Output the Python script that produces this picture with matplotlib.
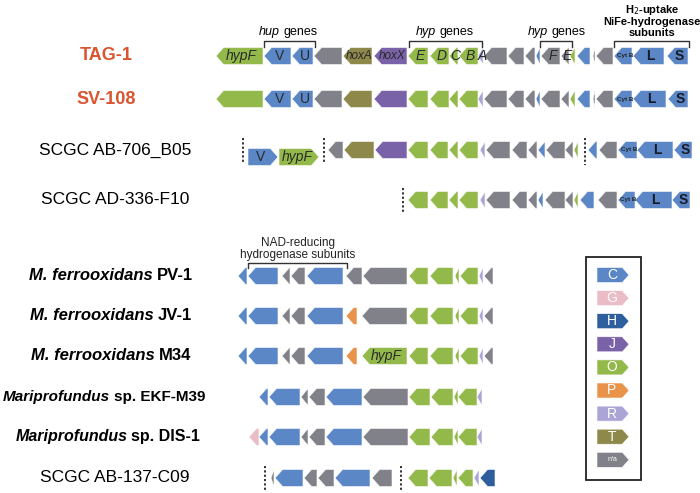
import matplotlib
matplotlib.use('Agg')
import matplotlib.pyplot as plt
from matplotlib.patches import Polygon, Rectangle
from matplotlib.offsetbox import TextArea, HPacker, AnnotationBbox

plt.rcParams['font.family'] = ['Liberation Sans', 'DejaVu Sans']

# COG category colours
colors = {'C': '#5b87c6', 'G': '#e9bcc6', 'H': '#2e5e9e', 'J': '#7a62a9',
          'O': '#93b94b', 'P': '#e9924a', 'R': '#aba4d6', 'T': '#8e884a',
          'NA': '#818189'}
legend_cats = ['C', 'G', 'H', 'J', 'O', 'P', 'R', 'T', 'NA']
legend_labels = ['C', 'G', 'H', 'J', 'O', 'P', 'R', 'T', 'n/a']

# genes: (category, start, end, label)  -- positions in diagram pixels
tag1_genes = [('O', 216, 263, 'hypF'), ('C', 264, 291, 'V'), ('C', 292, 313, 'U'),
              ('NA', 314, 342, ''), ('T', 343, 372, 'hoxA'), ('J', 374, 407, 'hoxX'),
              ('O', 408, 428, 'E'), ('O', 430, 449, 'D'), ('O', 449, 458, 'C'),
              ('O', 459, 478, 'B'), ('R', 478, 483, 'A'), ('NA', 484, 507, ''),
              ('NA', 508, 524, ''), ('NA', 525, 535, ''), ('C', 536, 540, ''),
              ('NA', 541, 560, 'F'), ('NA', 561, 569, 'E'), ('O', 570, 575, ''),
              ('C', 577, 590, ''), ('NA', 593, 595, ''), ('NA', 596, 613, ''),
              ('C', 614, 632, 'Cyt B'), ('C', 633, 664, 'L'), ('C', 667, 688, 'S')]
sv108_genes = [('O', 216, 263, ''), ('C', 264, 291, 'V'), ('C', 292, 313, 'U'),
               ('NA', 314, 342, ''), ('T', 343, 372, ''), ('J', 374, 407, ''),
               ('O', 408, 428, ''), ('O', 430, 449, ''), ('O', 449, 458, ''),
               ('O', 459, 478, ''), ('R', 478, 483, ''), ('NA', 484, 507, ''),
               ('NA', 508, 524, ''), ('NA', 525, 535, ''), ('C', 536, 540, ''),
               ('NA', 541, 560, ''), ('NA', 561, 569, ''), ('O', 570, 575, ''),
               ('C', 577, 590, ''), ('NA', 593, 595, ''), ('NA', 596, 613, ''),
               ('C', 614, 632, 'Cyt B'), ('C', 633, 666, 'L'), ('C', 668, 688, 'S')]
b05_frag_genes = [('C', 248, 278, 'V'), ('O', 279, 319, 'hypF')]
b05_genes = [('NA', 328, 343, ''), ('T', 344, 374, ''), ('J', 375, 407, ''),
             ('O', 408, 428, ''), ('O', 430, 448, ''), ('O', 449, 458, ''),
             ('O', 459, 478, ''), ('R', 480, 485, ''), ('NA', 486, 510, ''),
             ('NA', 512, 527, ''), ('NA', 528, 537, ''), ('C', 538, 545, ''),
             ('NA', 546, 565, ''), ('NA', 565, 573, ''), ('O', 574, 578, ''),
             ('C', 588, 597, ''), ('NA', 599, 617, ''), ('C', 618, 637, 'Cyt B'),
             ('C', 637, 673, 'L'), ('C', 674, 692, 'S')]
f10_genes = [('O', 408, 428, ''), ('O', 430, 448, ''), ('O', 449, 458, ''),
             ('O', 459, 478, ''), ('R', 480, 485, ''), ('NA', 486, 510, ''),
             ('NA', 512, 527, ''), ('NA', 528, 537, ''), ('C', 538, 543, ''),
             ('NA', 545, 565, ''), ('NA', 565, 573, ''), ('O', 574, 578, ''),
             ('C', 580, 594, ''), ('NA', 598, 617, ''), ('C', 618, 635, 'Cyt B'),
             ('C', 635, 672, 'L'), ('C', 672, 690, 'S')]
pv1_genes = [('C', 238, 247, ''), ('C', 248, 278, ''), ('NA', 282, 290, ''),
             ('NA', 291, 305, ''), ('C', 307, 343, ''), ('NA', 346, 362, ''),
             ('NA', 363, 407, ''), ('O', 409, 428, ''), ('O', 430, 453, ''),
             ('O', 455, 459, ''), ('O', 460, 478, ''), ('R', 479, 483, ''),
             ('NA', 484, 493, '')]
jv1_genes = [('C', 238, 247, ''), ('C', 248, 278, ''), ('NA', 282, 290, ''),
             ('NA', 291, 305, ''), ('C', 307, 343, ''), ('P', 346, 357, ''),
             ('NA', 362, 407, ''), ('O', 409, 428, ''), ('O', 430, 453, ''),
             ('O', 455, 459, ''), ('O', 460, 478, ''), ('R', 479, 483, ''),
             ('NA', 484, 493, '')]
m34_genes = [('C', 238, 247, ''), ('C', 248, 278, ''), ('NA', 282, 290, ''),
             ('NA', 291, 305, ''), ('C', 307, 343, ''), ('P', 346, 357, ''),
             ('O', 362, 407, 'hypF'), ('O', 409, 428, ''), ('O', 430, 453, ''),
             ('O', 455, 459, ''), ('O', 460, 478, ''), ('R', 479, 483, ''),
             ('NA', 484, 493, '')]
ekf_genes = [('C', 259, 268, ''), ('C', 269, 300, ''), ('NA', 301, 308, ''),
             ('NA', 309, 325, ''), ('C', 326, 362, ''), ('NA', 363, 408, ''),
             ('O', 409, 430, ''), ('O', 431, 453, ''), ('O', 454, 458, ''),
             ('O', 458, 477, ''), ('R', 477, 482, '')]
dis1_genes = [('G', 249, 259, '')] + ekf_genes
c09_genes = [('NA', 271, 274, ''), ('C', 275, 303, ''), ('NA', 304, 317, ''),
             ('NA', 318, 334, ''), ('C', 335, 370, ''), ('NA', 372, 392, ''),
             ('O', 408, 428, ''), ('O', 429, 452, ''), ('O', 453, 457, ''),
             ('O', 458, 473, ''), ('R', 474, 479, ''), ('H', 480, 495, '')]

row_y = [56, 99, 150, 200, 276, 316, 356, 397, 437, 478]
row_genes = [tag1_genes, sv108_genes, b05_genes, f10_genes, pv1_genes,
             jv1_genes, m34_genes, ekf_genes, dis1_genes, c09_genes]

italic_labels = ['hypF', 'hoxA', 'hoxX', 'E', 'D', 'C', 'B', 'A', 'F']
bold_labels = ['L', 'S', 'Cyt B']

fig = plt.figure(figsize=(7, 4.93), dpi=100)
ax = fig.add_axes([0, 0, 1, 1])
ax.set_xlim(0, 700)
ax.set_ylim(493, 0)
ax.axis('off')


def draw_gene(cat, x0, x1, y, label, h=17, direction=-1):
    head = min(h * 0.45, x1 - x0)
    if direction < 0:
        pts = [(x0, y), (x0 + head, y - h / 2), (x1, y - h / 2),
               (x1, y + h / 2), (x0 + head, y + h / 2)]
    else:
        pts = [(x1, y), (x1 - head, y - h / 2), (x0, y - h / 2),
               (x0, y + h / 2), (x1 - head, y + h / 2)]
    ax.add_patch(Polygon(pts, closed=True, facecolor=colors[cat],
                         edgecolor='white', linewidth=0.4))
    if label:
        xc = (x0 + x1) / 2 + direction * -2
        if label == 'Cyt B':
            ax.text(xc, y, label, fontsize=4.5, fontweight='bold',
                    ha='center', va='center', color='#222222')
        elif label in bold_labels:
            ax.text(xc, y, label, fontsize=10, fontweight='bold',
                    ha='center', va='center', color='#1a1a2a')
        else:
            it = label in italic_labels
            size = 8.5 if label.startswith('hox') else 10
            ax.text(xc, y, label, fontsize=size, style='italic' if it else 'normal',
                    ha='center', va='center', color='#2a2a2a')


def mixed_text(x, y, parts, size, color='black', sep=3.0):
    boxes = [TextArea(t, textprops=dict(fontsize=size, color=color,
                                        fontstyle=st, fontweight=w))
             for t, st, w in parts]
    pack = HPacker(children=boxes, align='baseline', pad=0, sep=sep)
    ab = AnnotationBbox(pack, (x, y), xycoords='data', frameon=False,
                        box_alignment=(0.5, 0.5), pad=0)
    ax.add_artist(ab)


def bracket(x0, x1, ytop, ybot):
    ax.plot([x0, x0, x1, x1], [ybot, ytop, ytop, ybot], color='#333333', lw=1)


def dashed(x, y0, y1):
    ax.plot([x, x], [y0, y1], color='#222222', lw=1.3, dashes=(1.2, 1.2))


for y, genes in zip(row_y, row_genes):
    for cat, x0, x1, lab in genes:
        draw_gene(cat, x0, x1, y, lab)

for cat, x0, x1, lab in b05_frag_genes:
    draw_gene(cat, x0, x1, 157, lab, direction=1)

# contig breaks
dashed(243, 138, 164)
dashed(324, 138, 164)
dashed(585, 138, 165)
dashed(403, 188, 212)
dashed(265, 466, 492)
dashed(401, 466, 492)

# brackets and annotations
bracket(264, 315, 41, 47)
mixed_text(288, 32, [('hup', 'italic', 'normal'), ('genes', 'normal', 'normal')], 9, sep=2.5)
bracket(409, 482, 41, 47)
mixed_text(445, 32, [('hyp', 'italic', 'normal'), ('genes', 'normal', 'normal')], 9, sep=2.5)
bracket(540, 572, 41, 47)
mixed_text(557, 32, [('hyp', 'italic', 'normal'), ('genes', 'normal', 'normal')], 9, sep=2.5)
bracket(614, 689, 41, 47)
ax.text(652, 10, 'H$_2$-uptake', fontsize=8, fontweight='bold', ha='center', va='center')
ax.text(652, 22, 'NiFe-hydrogenase', fontsize=8, fontweight='bold', ha='center', va='center')
ax.text(652, 33, 'subunits', fontsize=8, fontweight='bold', ha='center', va='center')

bracket(248, 347, 263, 268)
ax.text(298, 243, 'NAD-reducing', fontsize=8.5, ha='center', va='center', color='#222222')
ax.text(298, 255, 'hydrogenase subunits', fontsize=8.5, ha='center', va='center', color='#222222')

# strain labels
red = '#d9542f'
ax.text(106, 56, 'TAG-1', fontsize=13, fontweight='bold', color=red, ha='center', va='center')
ax.text(106, 99, 'SV-108', fontsize=13, fontweight='bold', color=red, ha='center', va='center')
ax.text(115, 150, 'SCGC AB-706_B05', fontsize=12.5, ha='center', va='center')
ax.text(115, 200, 'SCGC AD-336-F10', fontsize=12.5, ha='center', va='center')
mixed_text(111, 276, [('M. ferrooxidans', 'italic', 'bold'), ('PV-1', 'normal', 'bold')], 12)
mixed_text(111, 316, [('M. ferrooxidans', 'italic', 'bold'), ('JV-1', 'normal', 'bold')], 12)
mixed_text(111, 356, [('M. ferrooxidans', 'italic', 'bold'), ('M34', 'normal', 'bold')], 12)
mixed_text(104, 397, [('Mariprofundus', 'italic', 'bold'), ('sp. EKF-M39', 'normal', 'bold')], 11, sep=2.5)
mixed_text(108, 437, [('Mariprofundus', 'italic', 'bold'), ('sp. DIS-1', 'normal', 'bold')], 11.5, sep=2.5)
ax.text(115, 478, 'SCGC AB-137-C09', fontsize=12.5, ha='center', va='center')

# legend
ax.add_patch(Rectangle((586, 257), 55, 223, facecolor='white', edgecolor='#222222', lw=1.3))
for i, (cat, lab) in enumerate(zip(legend_cats, legend_labels)):
    ly = 275 + i * 23.1
    draw_gene(cat, 597, 629, ly, '', h=15, direction=1)
    ax.text(612, ly, lab, fontsize=5 if lab == 'n/a' else 10, color='white',
            ha='center', va='center')

fig.savefig('out.png', dpi=100)
